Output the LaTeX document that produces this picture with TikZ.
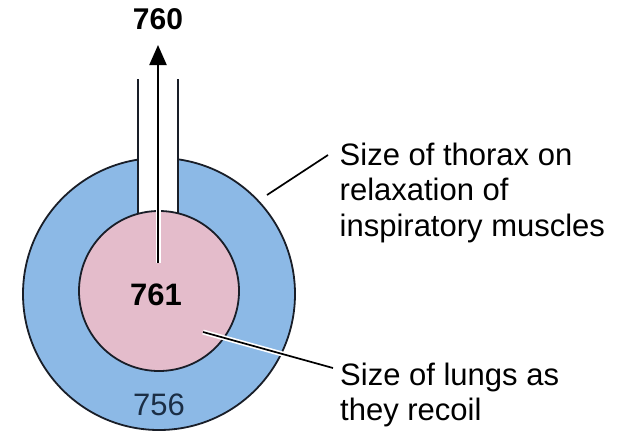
\documentclass[tikz,border=0pt]{standalone}
\usepackage{fontspec}
\setmainfont{Liberation Sans}
\usetikzlibrary{arrows.meta}
\definecolor{thoraxblue}{RGB}{140,185,230}
\definecolor{lungpink}{RGB}{228,188,203}
\definecolor{outline}{RGB}{25,30,40}
\definecolor{numblue}{RGB}{27,46,69}
\tikzset{
  ring/.style={draw=outline, line width=1.8pt},
  wall/.style={draw=outline, line width=1.8pt},
  leader/.style={draw=black, line width=1.7pt},
  halo/.style={draw=white, line width=5pt},
  caption/.style={inner sep=0pt, align=left, font=\fontsize{31}{35.5}\selectfont},
  bignum/.style={inner sep=0pt, font=\fontsize{30}{30}\selectfont\bfseries},
}
\begin{document}
\begin{tikzpicture}[x=1pt,y=-1pt]
\useasboundingbox (0,0) rectangle (621,432);
% thorax (outer)
\fill[thoraxblue] (159,294) circle (136);
\draw[ring] (159,294) circle (136);
% tube interior
\fill[white] (139,140) rectangle (177,240);
% lungs (inner)
\fill[lungpink] (159,291) circle (80);
\draw[ring] (159,291) circle (80);
% tube walls
\coordinate (wl) at (138,79);
\coordinate (wr) at (178,79);
\coordinate (wlb) at (138,213.8);
\coordinate (wrb) at (178,213.8);
\draw[wall] (wl) -- (wlb);
\draw[wall] (wr) -- (wrb);
% labels
\node[bignum] (n760) at (158,19.5) {760};
\node[bignum, font=\fontsize{31}{31}\selectfont\bfseries] (n761) at (156,295) {761};
\node[inner sep=0pt, font=\fontsize{31}{31}\selectfont, text=numblue] (n756) at (159,405) {756};
% arrow
\coordinate (astart) at (158,263);
\coordinate (aend) at (158,45);
\draw[halo] (astart) -- (158,60);
\draw[line width=2.2pt, -{Triangle[length=20pt,width=17pt]}] (astart) -- (aend);
% captions
\node[caption, anchor=north west] (thorax) at (339.5,142.5) {Size of thorax on\\relaxation of\\inspiratory muscles};
\node[caption, anchor=north west] (lungs) at (340,362.5) {Size of lungs as\\they recoil};
% leaders
\coordinate (t1) at (267,195);
\coordinate (t2) at (328,155);
\draw[leader] (t1) -- (t2);
\coordinate (l1) at (203,332);
\coordinate (l2) at (333,368);
\draw[halo] (l1) -- (l2);
\draw[leader] (l1) -- (l2);
\end{tikzpicture}
\end{document}
